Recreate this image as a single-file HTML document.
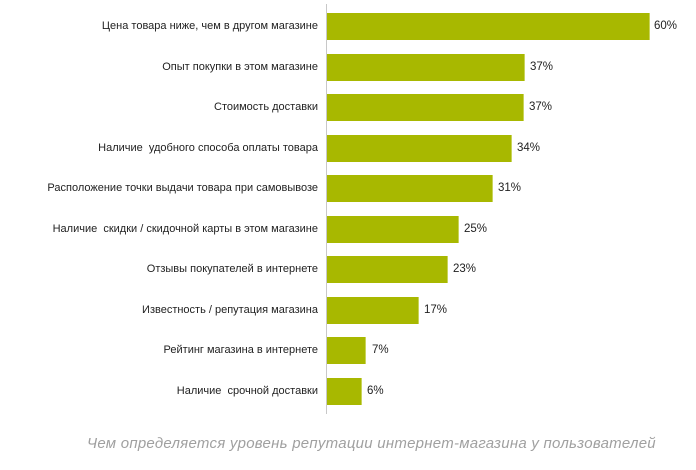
<!DOCTYPE html>
<html><head><meta charset="utf-8"><style>
body{margin:0;width:696px;height:470px;background:#fff;position:relative;overflow:hidden;font-family:"Liberation Sans",Arial,sans-serif;}
.ax{position:absolute;left:326px;top:4px;width:1px;height:410px;background:#c8c8c8;}
.bar{position:absolute;left:327px;height:27px;background:#a8b800;border-right:1px solid #c9d45a;box-sizing:border-box;}
.lab{position:absolute;right:378px;font-size:11px;color:#222;white-space:nowrap;line-height:27px;}
.val{position:absolute;font-size:11.5px;color:#222;line-height:27px;}
.cap{position:absolute;left:87px;top:435px;font-size:15px;letter-spacing:0.25px;font-style:italic;color:#a0a0a0;white-space:nowrap;}
</style></head><body>
<div class="ax"></div>
<div class="lab" style="top:13px">Цена товара ниже, чем в другом магазине</div><div class="bar" style="top:13px;width:323px"></div><div class="val" style="top:13px;left:654px">60%</div>
<div class="lab" style="top:54px">Опыт покупки в этом магазине</div><div class="bar" style="top:54px;width:198px"></div><div class="val" style="top:54px;left:530px">37%</div>
<div class="lab" style="top:94px">Стоимость доставки</div><div class="bar" style="top:94px;width:197px"></div><div class="val" style="top:94px;left:529px">37%</div>
<div class="lab" style="top:135px">Наличие &nbsp;удобного способа оплаты товара</div><div class="bar" style="top:135px;width:185px"></div><div class="val" style="top:135px;left:517px">34%</div>
<div class="lab" style="top:175px">Расположение точки выдачи товара при самовывозе</div><div class="bar" style="top:175px;width:166px"></div><div class="val" style="top:175px;left:498px">31%</div>
<div class="lab" style="top:216px">Наличие &nbsp;скидки / скидочной карты в этом магазине</div><div class="bar" style="top:216px;width:132px"></div><div class="val" style="top:216px;left:464px">25%</div>
<div class="lab" style="top:256px">Отзывы покупателей в интернете</div><div class="bar" style="top:256px;width:121px"></div><div class="val" style="top:256px;left:453px">23%</div>
<div class="lab" style="top:297px">Известность / репутация магазина</div><div class="bar" style="top:297px;width:92px"></div><div class="val" style="top:297px;left:424px">17%</div>
<div class="lab" style="top:337px">Рейтинг магазина в интернете</div><div class="bar" style="top:337px;width:39px"></div><div class="val" style="top:337px;left:372px">7%</div>
<div class="lab" style="top:378px">Наличие &nbsp;срочной доставки</div><div class="bar" style="top:378px;width:35px"></div><div class="val" style="top:378px;left:367px">6%</div>
<div class="cap">Чем определяется уровень репутации интернет-магазина у пользователей</div>
</body></html>
